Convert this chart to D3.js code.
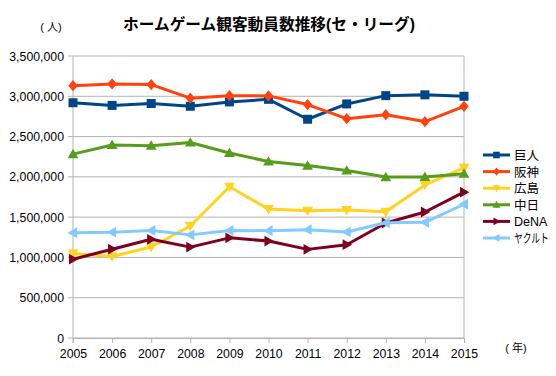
<!DOCTYPE html>
<html>
<head>
<meta charset="utf-8">
<script src="https://cdn.jsdelivr.net/npm/d3@7"></script>
<style>
  body { margin: 0; background: #fff; }
  svg text { font-family: "Liberation Sans", "Noto Sans CJK JP", sans-serif; }
</style>
</head>
<body>
<svg id="chart" width="556" height="376"></svg>
<script>
// data
const years = [2005, 2006, 2007, 2008, 2009, 2010, 2011, 2012, 2013, 2014, 2015];
const yTicks = [0, 500000, 1000000, 1500000, 2000000, 2500000, 3000000, 3500000];

const giants   = [2920000, 2887000, 2910000, 2876000, 2930000, 2962000, 2715000, 2905000, 3008000, 3018000, 3000000];
const tigers   = [3132000, 3154000, 3145000, 2977000, 3007000, 3005000, 2897000, 2722000, 2771000, 2686000, 2876000];
const carp     = [1048000, 1012000, 1130000, 1390000, 1878000, 1600000, 1580000, 1589000, 1566000, 1900000, 2112000];
const dragons  = [2282000, 2396000, 2386000, 2426000, 2296000, 2190000, 2140000, 2078000, 1997000, 1999000, 2040000];
const baystars = [978000, 1102000, 1225000, 1128000, 1243000, 1203000, 1100000, 1158000, 1427000, 1564000, 1810000];
const swallows = [1306000, 1314000, 1334000, 1280000, 1334000, 1332000, 1345000, 1316000, 1430000, 1436000, 1660000];

const seriesNames = ["巨人", "阪神", "広島", "中日", "DeNA", "ヤクルト"];
const seriesValues = [giants, tigers, carp, dragons, baystars, swallows];
const seriesColors = ["#004586", "#ff420e", "#ffd320", "#579d1c", "#7e0021", "#83caff"];
const seriesMarkers = ["square", "diamond", "down", "up", "right", "left"];

const svg = d3.select("#chart");
const margin = { left: 73, right: 92, top: 56, bottom: 38 };
const W = 556, H = 376;

const x = d3.scaleLinear().domain([2005, 2015]).range([margin.left, W - margin.right]);
const y = d3.scaleLinear().domain([0, 3500000]).range([H - margin.bottom, margin.top]);

// gridlines
svg.append("g")
    .selectAll("line")
    .data(yTicks)
    .enter()
    .append("line")
    .attr("x1", margin.left - 5)
    .attr("x2", W - margin.right)
    .attr("y1", d => y(d))
    .attr("y2", d => y(d))
    .attr("stroke", "#b3b3b3")
    .attr("stroke-width", 1);

// right frame line
svg.append("line")
    .attr("x1", x(2015)).attr("x2", x(2015))
    .attr("y1", y(3500000)).attr("y2", y(0))
    .attr("stroke", "#b3b3b3");

// y axis labels
svg.append("g")
    .selectAll("text")
    .data(yTicks)
    .enter()
    .append("text")
    .attr("x", margin.left - 9)
    .attr("y", d => y(d) + 4.5)
    .attr("text-anchor", "end")
    .attr("font-size", 12.3)
    .attr("fill", "#000")
    .text(d => d3.format(",")(d));

// x axis
const xAxis = d3.axisBottom(x)
    .tickValues(years)
    .tickFormat(d3.format("d"))
    .tickSize(5)
    .tickSizeOuter(0);
const xg = svg.append("g")
    .attr("transform", `translate(0,${y(0)})`)
    .call(xAxis);
xg.select(".domain").attr("stroke", "#b3b3b3");
xg.selectAll(".tick line").attr("stroke", "#b3b3b3");
xg.selectAll(".tick text")
    .attr("font-size", 12.3)
    .attr("font-family", "Liberation Sans")
    .attr("fill", "#000")
    .attr("dy", "0.95em");

// y axis line
svg.append("line")
    .attr("x1", margin.left).attr("x2", margin.left)
    .attr("y1", y(3500000)).attr("y2", y(0) + 5)
    .attr("stroke", "#b3b3b3");

// marker shapes
function markerPath(type, s) {
    switch (type) {
        case "square": return `M${-s},${-s}H${s}V${s}H${-s}Z`;
        case "diamond": return `M0,${-s * 1.25}L${s * 1.05},0L0,${s * 1.25}L${-s * 1.05},0Z`;
        case "up": return `M0,${-s * 1.2}L${s * 1.2},${s * 0.9}L${-s * 1.2},${s * 0.9}Z`;
        case "down": return `M0,${s * 1.2}L${s * 1.2},${-s * 0.9}L${-s * 1.2},${-s * 0.9}Z`;
        case "right": return `M${s * 1.2},0L${-s * 0.9},${s * 1.2}L${-s * 0.9},${-s * 1.2}Z`;
        case "left": return `M${-s * 1.2},0L${s * 0.9},${s * 1.2}L${s * 0.9},${-s * 1.2}Z`;
    }
}

const line = d3.line()
    .x((d, i) => x(years[i]))
    .y(d => y(d));

// draw series
seriesValues.forEach((vals, k) => {
    const g = svg.append("g");
    g.append("path")
        .datum(vals)
        .attr("d", line)
        .attr("fill", "none")
        .attr("stroke", seriesColors[k])
        .attr("stroke-width", 3)
        .attr("stroke-linejoin", "round");
    g.selectAll("path.mk")
        .data(vals)
        .enter()
        .append("path")
        .attr("class", "mk")
        .attr("transform", (d, i) => `translate(${x(years[i])},${y(d)})`)
        .attr("d", markerPath(seriesMarkers[k], 4.5))
        .attr("fill", seriesColors[k]);
});

// legend
const legend = svg.append("g");
seriesNames.forEach((name, k) => {
    const ly = 155 + k * 16.6;
    legend.append("line")
        .attr("x1", 483).attr("x2", 510)
        .attr("y1", ly).attr("y2", ly)
        .attr("stroke", seriesColors[k])
        .attr("stroke-width", 3);
    legend.append("path")
        .attr("transform", `translate(496.5,${ly})`)
        .attr("d", markerPath(seriesMarkers[k], 3.3))
        .attr("fill", seriesColors[k]);
    // katakana label is squeezed horizontally like the narrow font of the original
    const sx = name === "ヤクルト" ? 0.7 : 1;
    legend.append("text")
        .attr("transform", `translate(514,${ly + 5}) scale(${sx},1)`)
        .attr("font-size", 12.5)
        .attr("fill", "#000")
        .text(name);
});

// title and unit labels
svg.append("text")
    .attr("x", 269)
    .attr("y", 30)
    .attr("text-anchor", "middle")
    .attr("font-size", 15.7)
    .attr("font-weight", "bold")
    .attr("font-family", "Noto Sans CJK JP")
    .text("ホームゲーム観客動員数推移(セ・リーグ)");

svg.append("text")
    .attr("x", 51)
    .attr("y", 31)
    .attr("text-anchor", "middle")
    .attr("font-size", 11)
    .attr("font-family", "Noto Sans CJK JP")
    .text("( 人)");

svg.append("text")
    .attr("x", 516)
    .attr("y", 352)
    .attr("text-anchor", "middle")
    .attr("font-size", 11)
    .attr("font-family", "Noto Sans CJK JP")
    .text("( 年)");
</script>
</body>
</html>
